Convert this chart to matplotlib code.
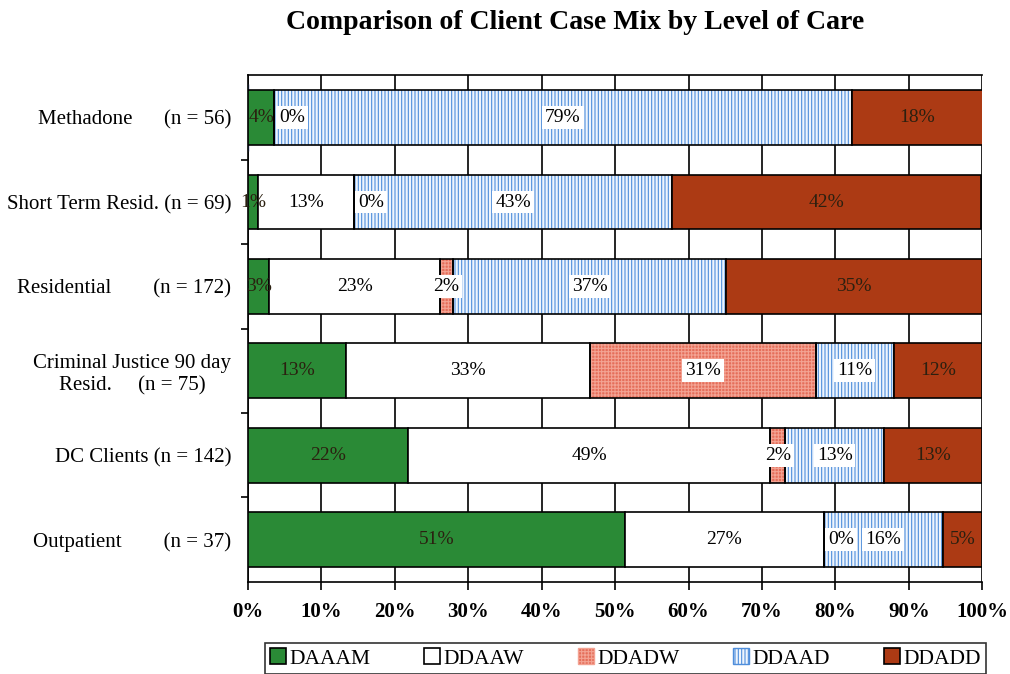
import numpy as np
import matplotlib.pyplot as plt

plt.rcParams['font.family'] = ['Liberation Serif', 'DejaVu Serif']

# levels of care (top to bottom)
programs = ["Methadone      (n = 56)",
            "Short Term Resid. (n = 69)",
            "Residential        (n = 172)",
            "Criminal Justice 90 day\nResid.     (n = 75)",
            "DC Clients (n = 142)",
            "Outpatient        (n = 37)"]

series = ["DAAAM", "DDAAW", "DDADW", "DDAAD", "DDADD"]

# percent of clients in each group
daaam = [3.6, 1.4, 2.9, 13.3, 21.8, 51.4]
ddaaw = [0.0, 13.0, 23.3, 33.3, 49.3, 27.0]
ddadw = [0.0, 0.0, 1.7, 30.7, 2.1, 0.0]
ddaad = [78.6, 43.4, 37.2, 10.7, 13.4, 16.2]
ddadd = [17.9, 42.0, 34.9, 12.0, 13.4, 5.4]

# which zero-valued segments carry a "0%" label
zero_shown = {(0, 1), (1, 2), (5, 2)}

xticks = np.arange(0, 101, 10)

colors = ["#2a8a36", "#ffffff", "#e56e5a", "#eef5fd", "#ac3a14"]
hatches = [None, None, "+++++", "|||||", None]
hatch_cols = [None, None, "#f3a393", "#4f8edb", None]
boxed = [False, True, True, True, False]

fig, ax = plt.subplots(figsize=(10.1, 6.74), dpi=100)
fig.subplots_adjust(left=0.2455, right=0.9725, top=0.888, bottom=0.137)

values = [daaam, ddaaw, ddadw, ddaad, ddadd]
y = np.arange(len(programs))
height = 0.65
left = np.zeros(len(programs))
plt.rcParams['hatch.linewidth'] = 0.8

for i, (name, vals) in enumerate(zip(series, values)):
    vals = np.array(vals)
    if hatches[i]:
        ax.barh(y, vals, height, left=left, color=colors[i],
                edgecolor=hatch_cols[i], hatch=hatches[i], linewidth=0, zorder=2)
        ax.barh(y, vals, height, left=left, fill=False,
                edgecolor="black", linewidth=1.2, zorder=3)
        # legend proxy
        ax.barh([0], [0], color=colors[i], edgecolor=hatch_cols[i],
                hatch=hatches[i], label=name)
    else:
        ax.barh(y, vals, height, left=left, color=colors[i],
                edgecolor="black", linewidth=1.2, zorder=3, label=name)

    for j, v in enumerate(vals):
        txt = f"{int(round(v))}%"
        bb = dict(boxstyle="square,pad=0.15", fc="white", ec="none") if boxed[i] else None
        if v == 0:
            if (j, i) in zero_shown:
                ax.text(left[j] + 0.6, j, txt, ha="left", va="center", fontsize=14,
                        bbox=dict(boxstyle="square,pad=0.15", fc="white", ec="none"), zorder=5)
            continue
        col = "#2b2010" if i in (0, 4) else "black"
        ax.text(left[j] + v / 2, j, txt, ha="center", va="center",
                fontsize=14, color=col, bbox=bb, zorder=5)
    left = left + vals

ax.set_xlim(0, 100)
ax.set_ylim(len(programs) - 0.5, -0.5)
ax.set_xticks(xticks)
ax.set_xticklabels([f"{t}%" for t in xticks], fontsize=15, fontweight="bold")
ax.set_yticks(y)
ax.set_yticklabels(programs, fontsize=15, multialignment="center")
ax.tick_params(axis="y", length=0, pad=12)
ax.set_yticks(np.arange(0.5, len(programs) - 1, 1), minor=True)
ax.tick_params(axis="y", which="minor", length=5, direction="out", width=1.2)
ax.tick_params(axis="x", length=6, direction="out", width=1.2, pad=9)
ax.xaxis.grid(True, color="black", linewidth=1.2, zorder=0)
ax.set_axisbelow(True)
for s in ax.spines.values():
    s.set_linewidth(1.2)
ax.spines["right"].set_visible(False)

fig.text(0.569, 0.967, "Comparison of Client Case Mix by Level of Care",
         ha="center", va="center", fontsize=20, fontweight="bold")

leg = ax.legend(loc="upper center", bbox_to_anchor=(0.514, -0.121), ncol=5,
                fontsize=15.5, frameon=True, fancybox=False, edgecolor="black",
                handlelength=0.75, handleheight=0.75, handletextpad=0.15,
                columnspacing=2.5, borderpad=0.25, borderaxespad=0)
leg.get_frame().set_linewidth(1.2)

fig.savefig("out.png", dpi=100)
